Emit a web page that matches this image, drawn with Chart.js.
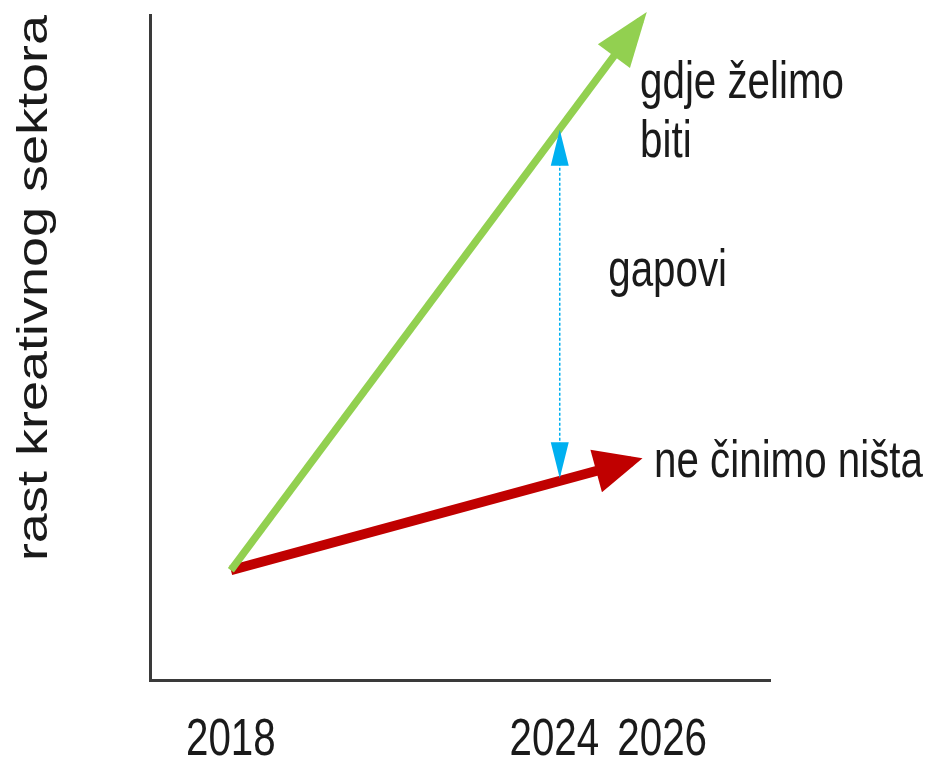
<!DOCTYPE html>
<html>
<head>
<meta charset="utf-8">
<script src="https://cdn.jsdelivr.net/npm/chart.js@4"></script>
<style>
  html, body { margin: 0; padding: 0; background: #fff; }
  #wrap { width: 934px; height: 761px; }
</style>
</head>
<body>
<div id="wrap"><canvas id="chart" width="934" height="761"></canvas></div>
<script>
// years on the x axis
const tickYears = [2018, 2024, 2026];
const startYear = 2018;
const gapYear = 2024.1;

// growth index (0..100, arbitrary units)
const startValue = 16.5;
const targetEnd = { year: 2025.6, value: 99.2 };      // "gdje želimo biti"
const doNothingEnd = { year: 2025.44, value: 32.9 };  // "ne činimo ništa"
const gapValues = [82.3, 30.8];

const yTitle = 'rast kreativnog sektora';
const labels = [
    { text: 'gdje želimo', year: 2025.59, value: 87.5 },
    { text: 'biti', year: 2025.59, value: 78.7 },
    { text: 'gapovi', year: 2025.0, value: 59.2 },
    { text: 'ne činimo ništa', year: 2025.85, value: 30.5 }
];

const FONT = '52px "Liberation Sans", Arial, sans-serif';
const TITLE_FONT = '54px "Liberation Sans", Arial, sans-serif';
const SQUEEZE = 0.775;

function squeezedText(ctx, str, x, y, align) {
    ctx.save();
    ctx.translate(x, y);
    ctx.scale(SQUEEZE, 1);
    ctx.font = FONT;
    ctx.fillStyle = '#1a1a1a';
    ctx.textAlign = align || 'left';
    ctx.textBaseline = 'alphabetic';
    ctx.fillText(str, 0, 0);
    ctx.restore();
}

function arrowHead(ctx, from, to, len, half, color, lineW) {
    const ang = Math.atan2(to.y - from.y, to.x - from.x);
    // push the tip out a little so the line end is fully covered
    const ext = (lineW / 2) * len / half;
    const tx = to.x + Math.cos(ang) * ext;
    const ty = to.y + Math.sin(ang) * ext;
    ctx.save();
    ctx.translate(tx, ty);
    ctx.rotate(ang);
    ctx.beginPath();
    ctx.moveTo(0, 0);
    ctx.lineTo(-len, -half);
    ctx.lineTo(-len, half);
    ctx.closePath();
    ctx.fillStyle = color;
    ctx.fill();
    ctx.restore();
}

const arrowPlugin = {
    id: 'arrows',
    afterDatasetsDraw(chart) {
        const ctx = chart.ctx;
        chart.data.datasets.forEach((ds, i) => {
            const pts = chart.getDatasetMeta(i).data;
            const a = pts[0], b = pts[pts.length - 1];
            const h = ds.head;
            arrowHead(ctx, a, b, h.len, h.half, ds.borderColor, ds.borderWidth);
            if (h.both) arrowHead(ctx, b, a, h.len, h.half, ds.borderColor, ds.borderWidth);
        });
    },
    afterDraw(chart) {
        const ctx = chart.ctx;
        const xs = chart.scales.x, ys = chart.scales.y;
        tickYears.forEach(yr => {
            squeezedText(ctx, String(yr), xs.getPixelForValue(yr), 755, 'center');
        });
        labels.forEach(l => {
            squeezedText(ctx, l.text, xs.getPixelForValue(l.year), ys.getPixelForValue(l.value), 'left');
        });
        // rotated y title (squeezed across its height, like the rest of the picture)
        ctx.save();
        ctx.translate(47, 288);
        ctx.scale(SQUEEZE, 1);
        ctx.rotate(-Math.PI / 2);
        ctx.font = TITLE_FONT;
        ctx.fillStyle = '#1a1a1a';
        ctx.textAlign = 'center';
        ctx.textBaseline = 'alphabetic';
        ctx.fillText(yTitle, 0, 0);
        ctx.restore();
    }
};

new Chart(document.getElementById('chart').getContext('2d'), {
    type: 'line',
    data: {
        datasets: [
            {
                data: [{ x: startYear, y: startValue }, { x: targetEnd.year, y: targetEnd.value }],
                borderColor: '#92D050',
                borderWidth: 7.5,
                head: { len: 55, half: 20 }
            },
            {
                data: [{ x: startYear, y: startValue }, { x: doNothingEnd.year, y: doNothingEnd.value }],
                borderColor: '#C00000',
                borderWidth: 10,
                head: { len: 48, half: 22 }
            },
            {
                data: [{ x: gapYear, y: gapValues[0] }, { x: gapYear, y: gapValues[1] }],
                borderColor: '#00B0F0',
                borderWidth: 1.5,
                borderDash: [3, 2],
                head: { len: 36, half: 9, both: true }
            }
        ]
    },
    options: {
        responsive: false,
        animation: false,
        layout: { padding: { left: 150, right: 164, top: 15, bottom: 81 } },
        elements: {
            point: { radius: 0, hoverRadius: 0 },
            line: { borderCapStyle: 'butt', tension: 0 }
        },
        datasets: { line: { clip: false } },
        plugins: { legend: { display: false }, tooltip: { enabled: false } },
        scales: {
            x: {
                type: 'linear',
                min: 2016.5,
                max: 2028,
                ticks: { display: false },
                grid: { display: false, drawTicks: false },
                border: { display: true, color: '#3a3a3a', width: 3 }
            },
            y: {
                min: 0,
                max: 100,
                ticks: { display: false },
                grid: { display: false, drawTicks: false },
                border: { display: true, color: '#3a3a3a', width: 3 }
            }
        }
    },
    plugins: [arrowPlugin]
});
</script>
</body>
</html>
